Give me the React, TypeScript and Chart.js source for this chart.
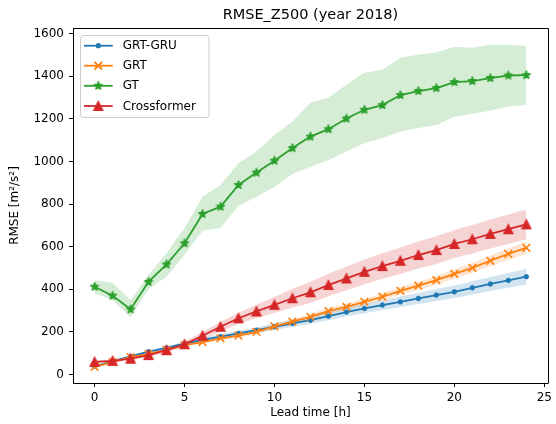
import React, { useEffect, useRef } from 'react';
import { Chart, registerables } from 'chart.js';

Chart.register(...registerables);

const leadTimes = [0, 1, 2, 3, 4, 5, 6, 7, 8, 9, 10, 11, 12, 13, 14, 15, 16, 17, 18, 19, 20, 21, 22, 23, 24];

const grtGru = [38, 62, 85, 107, 125, 145, 163, 178, 193, 208, 224, 240, 255, 274, 293, 310, 326, 341, 357, 373, 388, 407, 425, 442, 459];
const grtGruUpper = [40, 66, 90, 113, 132, 153, 173, 189, 205, 221, 239, 256, 272, 293, 313, 332, 349, 366, 383, 401, 417, 438, 458, 477, 496];
const grtGruLower = [36, 58, 80, 101, 118, 137, 153, 167, 181, 195, 209, 224, 238, 255, 273, 288, 303, 316, 331, 345, 359, 376, 392, 407, 422];

const grt = [36, 58, 82, 96, 116, 138, 152, 170, 182, 200, 226, 248, 271, 298, 318, 341, 365, 393, 417, 443, 472, 501, 534, 566, 595];
const grtUpper = [39, 61, 86, 101, 121, 144, 159, 178, 191, 210, 237, 260, 284, 312, 333, 357, 382, 411, 436, 463, 494, 524, 559, 593, 624];
const grtLower = [33, 55, 78, 91, 111, 132, 145, 162, 173, 190, 215, 236, 258, 284, 303, 325, 348, 375, 398, 423, 450, 478, 509, 539, 566];

const gt = [412, 370, 306, 435, 517, 616, 754, 788, 890, 948, 1004, 1063, 1117, 1152, 1202, 1243, 1265, 1312, 1331, 1345, 1373, 1378, 1392, 1404, 1406];
const gtUpper = [443, 431, 349, 467, 570, 688, 835, 890, 992, 1047, 1125, 1188, 1276, 1299, 1360, 1417, 1431, 1487, 1501, 1512, 1539, 1534, 1548, 1548, 1543];
const gtLower = [382, 349, 269, 401, 459, 561, 675, 688, 791, 835, 882, 942, 976, 1007, 1047, 1087, 1111, 1141, 1158, 1172, 1210, 1224, 1238, 1258, 1266];

const crossformer = [59, 64, 74, 91, 114, 142, 182, 224, 264, 296, 327, 358, 386, 420, 451, 482, 509, 534, 561, 584, 613, 635, 660, 682, 705];
const crossformerUpper = [65, 70, 81, 100, 125, 156, 200, 246, 290, 328, 365, 402, 436, 473, 507, 540, 569, 596, 624, 649, 679, 702, 728, 751, 775];
const crossformerLower = [53, 58, 67, 82, 103, 128, 164, 202, 238, 264, 289, 314, 336, 367, 395, 424, 449, 472, 498, 519, 547, 568, 592, 613, 635];

const seriesNames = ['GRT-GRU', 'GRT', 'GT', 'Crossformer'];
const xTickValues = [0, 5, 10, 15, 20, 25];
const yTickValues = [0, 200, 400, 600, 800, 1000, 1200, 1400, 1600];

const BLUE = '#1f77b4';
const ORANGE = '#ff7f0e';
const GREEN = '#2ca02c';
const RED = '#d62728';
const FONT = "'DejaVu Sans', sans-serif";

function starImage(color: string) {
  const c = document.createElement('canvas');
  c.width = 12;
  c.height = 12;
  const ctx = c.getContext('2d')!;
  const R = 3.9;
  const r = R * 0.382;
  ctx.beginPath();
  for (let i = 0; i < 10; i++) {
    const rad = i % 2 === 0 ? R : r;
    const a = -Math.PI / 2 + (i * Math.PI) / 5;
    const px = 6 + rad * Math.cos(a);
    const py = 6 + rad * Math.sin(a);
    if (i === 0) ctx.moveTo(px, py);
    else ctx.lineTo(px, py);
  }
  ctx.closePath();
  ctx.fillStyle = color;
  ctx.strokeStyle = color;
  ctx.lineWidth = 1.6;
  ctx.lineJoin = 'round';
  ctx.fill();
  ctx.stroke();
  return c;
}

function triangleImage(color: string) {
  const c = document.createElement('canvas');
  c.width = 14;
  c.height = 14;
  const ctx = c.getContext('2d')!;
  const R = 4.1;
  ctx.beginPath();
  ctx.moveTo(7, 7 - R);
  ctx.lineTo(7 - R, 7 + R);
  ctx.lineTo(7 + R, 7 + R);
  ctx.closePath();
  ctx.fillStyle = color;
  ctx.strokeStyle = color;
  ctx.lineWidth = 1.8;
  ctx.lineJoin = 'miter';
  ctx.fill();
  ctx.stroke();
  return c;
}

const pts = (ys: number[]) => leadTimes.map((t, i) => ({ x: t, y: ys[i] }));

export default function App() {
  const ref = useRef<HTMLCanvasElement>(null);

  useEffect(() => {
    const canvas = ref.current!;
    const star = starImage(GREEN);
    const tri = triangleImage(RED);

    const band = (lower: number[], upper: number[], fillColor: string) => [
      {
        data: pts(lower),
        borderWidth: 0,
        pointRadius: 0,
        fill: false,
        order: 10,
      },
      {
        data: pts(upper),
        borderWidth: 0,
        pointRadius: 0,
        fill: '-1',
        backgroundColor: fillColor,
        order: 10,
      },
    ];

    const framePlugin = {
      id: 'frameAndLegend',
      afterDraw(chart: any) {
        const ctx = chart.ctx as CanvasRenderingContext2D;
        const a = chart.chartArea;
        ctx.save();
        ctx.strokeStyle = '#000';
        ctx.lineWidth = 1;
        ctx.beginPath();
        ctx.moveTo(Math.round(a.left) + 0.5, Math.round(a.top) + 0.5);
        ctx.lineTo(Math.round(a.right) + 0.5, Math.round(a.top) + 0.5);
        ctx.lineTo(Math.round(a.right) + 0.5, Math.round(a.bottom) + 0.5);
        ctx.stroke();

        ctx.fillStyle = '#000';
        ctx.font = `14.5px ${FONT}`;
        ctx.textAlign = 'center';
        ctx.textBaseline = 'alphabetic';
        ctx.fillText('RMSE_Z500 (year 2018)', (a.left + a.right) / 2, 19);

        const lx = 80.5, ly = 35.5, lw = 128.5, lh = 82;
        ctx.beginPath();
        ctx.roundRect(lx, ly, lw, lh, 3);
        ctx.fillStyle = 'rgba(255,255,255,0.8)';
        ctx.fill();
        ctx.strokeStyle = '#cccccc';
        ctx.lineWidth = 1;
        ctx.stroke();

        const colors = [BLUE, ORANGE, GREEN, RED];
        const rows = [45.7, 65.7, 85.8, 106];
        const x0 = 84, x1 = 112.7, xm = 98.3;
        seriesNames.forEach((name, i) => {
          const y = rows[i];
          ctx.strokeStyle = colors[i];
          ctx.lineWidth = 1.8;
          ctx.beginPath();
          ctx.moveTo(x0, y);
          ctx.lineTo(x1, y);
          ctx.stroke();
          if (i === 0) {
            ctx.beginPath();
            ctx.arc(xm, y, 2.6, 0, Math.PI * 2);
            ctx.fillStyle = BLUE;
            ctx.fill();
          } else if (i === 1) {
            ctx.beginPath();
            const d = 3.8;
            ctx.moveTo(xm - d, y - d);
            ctx.lineTo(xm + d, y + d);
            ctx.moveTo(xm - d, y + d);
            ctx.lineTo(xm + d, y - d);
            ctx.stroke();
          } else if (i === 2) {
            ctx.drawImage(star, xm - 6, y - 6);
          } else {
            ctx.drawImage(tri, xm - 7, y - 7);
          }
          ctx.fillStyle = '#000';
          ctx.font = `12px ${FONT}`;
          ctx.textAlign = 'left';
          ctx.textBaseline = 'middle';
          ctx.fillText(name, 122.7, y + 0.5);
        });
        ctx.restore();
      },
    };

    const chart = new Chart(canvas, {
      type: 'line',
      data: {
        datasets: [
          ...band(grtGruLower, grtGruUpper, 'rgba(31,119,180,0.2)'),
          ...band(grtLower, grtUpper, 'rgba(255,127,14,0.2)'),
          ...band(gtLower, gtUpper, 'rgba(44,160,44,0.2)'),
          ...band(crossformerLower, crossformerUpper, 'rgba(214,39,40,0.2)'),
          {
            label: seriesNames[0],
            data: pts(grtGru),
            borderColor: BLUE,
            backgroundColor: BLUE,
            borderWidth: 1.8,
            pointStyle: 'circle',
            pointRadius: 2.2,
            pointBorderWidth: 1,
            pointBorderColor: BLUE,
            pointBackgroundColor: BLUE,
            fill: false,
            order: 4,
          },
          {
            label: seriesNames[1],
            data: pts(grt),
            borderColor: ORANGE,
            backgroundColor: ORANGE,
            borderWidth: 1.8,
            pointStyle: 'crossRot',
            pointRadius: 5.4,
            pointBorderWidth: 1.6,
            pointBorderColor: ORANGE,
            fill: false,
            order: 3,
          },
          {
            label: seriesNames[2],
            data: pts(gt),
            borderColor: GREEN,
            backgroundColor: GREEN,
            borderWidth: 1.8,
            pointStyle: star,
            pointRadius: 5,
            fill: false,
            order: 2,
          },
          {
            label: seriesNames[3],
            data: pts(crossformer),
            borderColor: RED,
            backgroundColor: RED,
            borderWidth: 1.8,
            pointStyle: tri,
            pointRadius: 5,
            fill: false,
            order: 1,
          },
        ] as any,
      },
      options: {
        animation: false,
        responsive: false,
        devicePixelRatio: 1,
        layout: { padding: { top: 28, right: 7, left: 0, bottom: 0 } },
        plugins: {
          legend: { display: false },
          title: { display: false },
          tooltip: { enabled: false },
          filler: { drawTime: 'beforeDatasetsDraw' },
        },
        elements: { line: { tension: 0 } },
        scales: {
          x: {
            type: 'linear',
            min: -1.2,
            max: 25.2,
            afterBuildTicks: (s: any) => {
              s.ticks = xTickValues.map((v) => ({ value: v }));
            },
            afterFit: (s: any) => {
              s.height = 41;
            },
            ticks: {
              font: { family: FONT, size: 12 },
              color: '#000',
              padding: 4,
              maxRotation: 0,
              autoSkip: false,
              callback: (v: any) => String(v),
            },
            grid: {
              display: true,
              drawOnChartArea: false,
              drawTicks: true,
              tickLength: 4,
              tickColor: '#000',
              tickWidth: 1,
            },
            border: { display: true, color: '#000', width: 1 },
            title: {
              display: true,
              text: 'Lead time [h]',
              font: { family: FONT, size: 12 },
              color: '#000',
              padding: { top: 0, bottom: 4 },
            },
          },
          y: {
            type: 'linear',
            min: -40,
            max: 1627,
            afterBuildTicks: (s: any) => {
              s.ticks = yTickValues.map((v) => ({ value: v }));
            },
            afterFit: (s: any) => {
              s.width = 73;
            },
            ticks: {
              font: { family: FONT, size: 12 },
              color: '#000',
              padding: 5,
              autoSkip: false,
              callback: (v: any) => String(v),
            },
            grid: {
              display: true,
              drawOnChartArea: false,
              drawTicks: true,
              tickLength: 4,
              tickColor: '#000',
              tickWidth: 1,
            },
            border: { display: true, color: '#000', width: 1 },
            title: {
              display: true,
              text: 'RMSE [m²/s²]',
              font: { family: FONT, size: 12 },
              color: '#000',
              padding: { top: 8, bottom: 0 },
            },
          },
        },
      },
      plugins: [framePlugin],
    } as any);

    return () => chart.destroy();
  }, []);

  return (
    <div style={{ position: 'absolute', left: 0, top: 0, width: 556, height: 424, background: '#fff' }}>
      <canvas ref={ref} width={556} height={424} style={{ display: 'block', width: 556, height: 424 }} />
    </div>
  );
}
